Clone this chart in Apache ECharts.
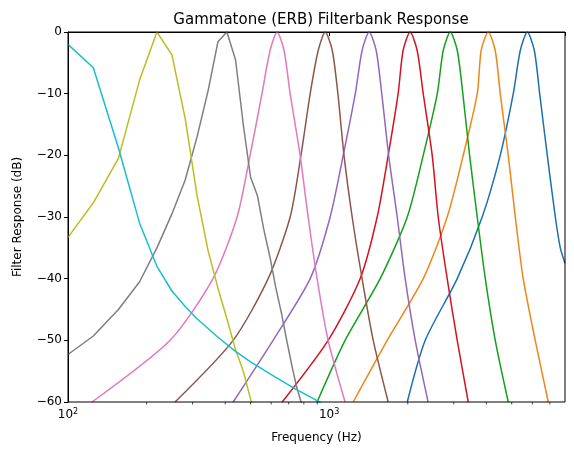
<!DOCTYPE html>
<html><head><meta charset="utf-8">
<script src="https://cdn.jsdelivr.net/npm/echarts@6/dist/echarts.min.js"></script>
<style>html,body{margin:0;padding:0;background:#fff}#c{width:574px;height:459px}</style>
</head><body><div id="c"></div>
<script>
// [frequency Hz, response dB]
const cyan  = [[100,-2],[125,-5.8],[156,-18.8],[188,-31],[219,-38],[250,-42],[281,-44.5],[312,-46.5],[375,-49.5],[438,-51.8],[500,-53.5],[625,-56],[750,-58],[875,-59.5],[1000,-61]];
const olive = [[100,-33.3],[125,-27.7],[156,-20.5],[188,-7.8],[219,0],[250,-3.7],[281,-14],[312,-26.5],[344,-35.5],[375,-41.5],[406,-46.5],[438,-51.5],[469,-55],[500,-59.5],[531,-63]];
const gray  = [[100,-52.3],[125,-49.3],[156,-45],[188,-40.5],[219,-35],[250,-29.5],[281,-24],[312,-17],[344,-9.5],[375,-1.6],[406,0],[438,-4.5],[469,-15],[500,-23.5],[531,-26.5],[562,-32],[594,-36.6],[625,-41.5],[656,-45.5],[688,-50],[719,-54],[750,-57.5],[781,-60],[812,-63]];
const pink  = [[123.6,-60],[246,-50],[359,-40],[444,-30],[498,-20],[553,-10],[594,-3],[632,0],[672,-3],[709,-10],[774,-20],[831,-30],[899,-40],[991,-50],[1151,-60]];
const brown = [[257,-60],[429,-50],[584,-40],[709,-30],[780,-20],[846,-10],[908,-3],[966,0],[1028,-3],[1080,-10],[1140,-20],[1225,-30],[1337,-40],[1475,-50],[1683,-60]];
const purple= [[429,-60],[610,-50],[846,-40],[1009,-30],[1132,-20],[1259,-10],[1337,-3],[1423,0],[1514,-3],[1590,-10],[1690,-20],[1822,-30],[1955,-40],[2136,-50],[2393,-60]];
const red   = [[661,-60],[991,-50],[1314,-40],[1527,-30],[1683,-20],[1837,-10],[1919,-3],[2042,0],[2173,-3],[2292,-10],[2481,-20],[2616,-30],[2831,-40],[3093,-50],[3409,-60]];
const green = [[899,-60],[1151,-50],[1568,-40],[1991,-30],[2292,-20],[2594,-10],[2734,-3],[2909,0],[3095,-3],[3250,-10],[3450,-20],[3690,-30],[3962,-40],[4325,-50],[4850,-60]];
const orange= [[1236,-60],[1668,-50],[2292,-40],[2831,-30],[3262,-20],[3690,-10],[3820,-3],[4065,0],[4325,-3],[4520,-10],[4850,-20],[5161,-30],[5534,-40],[6152,-50],[6902,-60]];
const blue  = [[1991,-60],[2333,-50],[3093,-40],[3855,-30],[4519,-20],[5070,-10],[5393,-3],[5738,0],[6105,-3],[6400,-10],[6843,-20],[7345,-30],[7674,-35],[8000,-37.5]];
const minorTicks = [200,300,400,500,600,700,800,900,2000,3000,4000,5000,6000,7000];
const yTicks = [0,-10,-20,-30,-40,-50,-60];

const curves = [
  {d:blue,c:'#1a70b0',s:true},{d:orange,c:'#f08519',s:true},{d:green,c:'#13a01c',s:true},
  {d:red,c:'#d5121e',s:true},{d:purple,c:'#9467bd',s:true},{d:brown,c:'#8c564b',s:true},
  {d:pink,c:'#e377c2',s:true},{d:gray,c:'#7f7f7f',s:false},{d:olive,c:'#bcbd22',s:false},
  {d:cyan,c:'#17becf',s:false}
];
const series = curves.map(k=>({type:'line',data:k.d,symbol:'none',smooth:k.s?0.25:false,clip:true,
  lineStyle:{color:k.c,width:1.5},itemStyle:{color:k.c}}));
series.push({type:'custom',silent:true,clip:false,data:minorTicks.map(v=>[v,-60]),
  renderItem:(p,api)=>{const pt=api.coord([api.value(0),-60]);
    return {type:'line',shape:{x1:pt[0],y1:pt[1],x2:pt[0],y2:pt[1]+2.5},style:{stroke:'#000',lineWidth:0.7}};}});

const chart = echarts.init(document.getElementById('c'));
chart.setOption({
  animation:false,
  title:{text:'Gammatone (ERB) Filterbank Response',left:316,top:8,textAlign:'center',
    textStyle:{fontFamily:'DejaVu Sans',fontWeight:'normal',fontSize:15,color:'#000'}},
  grid:{left:68,right:9,top:32,bottom:57},
  xAxis:{type:'log',logBase:10,min:100,max:8000,
    name:'Frequency (Hz)',nameLocation:'middle',nameGap:30,
    nameTextStyle:{fontFamily:'DejaVu Sans',fontSize:12,color:'#000'},
    axisLine:{lineStyle:{color:'#000',width:1}},
    axisTick:{show:true,length:4,inside:false,lineStyle:{color:'#000'}},
    splitLine:{show:false},minorTick:{show:false},
    axisLabel:{color:'#000',margin:6,
      formatter:v=>{const e=Math.round(Math.log10(v));return (Math.abs(Math.log10(v)-e)<1e-6 && (e===2||e===3))?'{b|10}{s|'+e+'}':'';},
      rich:{b:{fontFamily:'DejaVu Sans',fontSize:12,color:'#000'},s:{fontFamily:'DejaVu Sans',fontSize:8,color:'#000',verticalAlign:'top',padding:[0,0,6,0]}}}},
  yAxis:{type:'value',min:-60,max:0,interval:10,
    name:'Filter Response (dB)',nameLocation:'middle',nameGap:44,
    nameTextStyle:{fontFamily:'DejaVu Sans',fontSize:12,color:'#000'},
    axisLine:{show:true,lineStyle:{color:'#000'}},
    axisTick:{show:true,length:4,lineStyle:{color:'#000'}},
    splitLine:{show:false},
    axisLabel:{color:'#000',fontFamily:'DejaVu Sans',fontSize:12,margin:6,
      formatter:v=>yTicks.includes(v)?(v<0?'\u2212'+(-v):String(v)):''}},
  graphic:[{type:'rect',shape:{x:68,y:32,width:497,height:370},style:{fill:'none',stroke:'#000',lineWidth:1},silent:true,z:100}],
  series
});
</script></body></html>
